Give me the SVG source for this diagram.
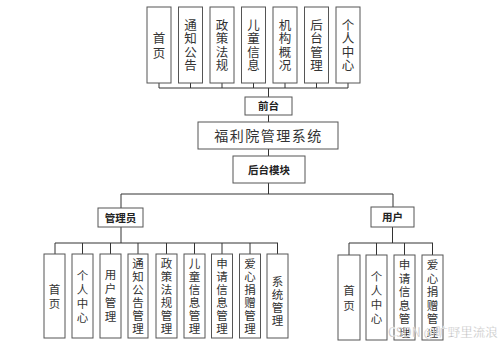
<svg xmlns="http://www.w3.org/2000/svg" width="500" height="346" viewBox="0 0 500 346">
<style>
.box{fill:#fff;stroke:#555;stroke-width:1}
.v{font-family:"Noto Sans CJK SC","Noto Sans CJK JP",sans-serif;font-size:11.5px;fill:#333;text-anchor:middle}
.vt{font-family:"Noto Sans CJK SC","Noto Sans CJK JP",sans-serif;font-size:12.5px;fill:#333;text-anchor:middle}
.b{font-family:"Noto Sans CJK SC",sans-serif;font-size:10.5px;font-weight:bold;fill:#222;text-anchor:middle}
.t{font-family:"Noto Sans CJK SC",sans-serif;font-size:14px;fill:#333;text-anchor:middle;letter-spacing:1.5px}
.ln{stroke:#333;stroke-width:1;fill:none}
</style>
<rect width="500" height="346" fill="#fff"/>
<g id="connectors">
<path class="ln" d="M159,83V88M190.5,83V88M222,83V88M253.5,83V88M285,83V88M316.5,83V88M348,83V88M159,88H348M268.5,88V97"/>
<path class="ln" d="M268.5,115V122M268.5,149V156M268.5,183V194M121,194H393M121,194V208M393,194V207"/>
<path class="ln" d="M121,227V243M55,243H278M55,243V254M82.5,243V254M110.5,243V254M138,243V254M166.5,243V254M194.5,243V254M222,243V254M250,243V254M277.5,243V254"/>
<path class="ln" d="M392.5,227V243M349,243H433M349,243V255M376.5,243V255M404.5,243V255M432.5,243V255"/>
</g>
<g id="top1"><rect class="box" x="147" y="7" width="24" height="76"/><text class="vt"><tspan x="159" y="43">首</tspan><tspan x="159" y="58">页</tspan></text></g>
<g id="top2"><rect class="box" x="178.5" y="7" width="24" height="76"/><text class="vt"><tspan x="190.5" y="29.5">通</tspan><tspan x="190.5" y="43">知</tspan><tspan x="190.5" y="56.5">公</tspan><tspan x="190.5" y="70">告</tspan></text></g>
<g id="top3"><rect class="box" x="210" y="7" width="24" height="76"/><text class="vt"><tspan x="222" y="29.5">政</tspan><tspan x="222" y="43">策</tspan><tspan x="222" y="56.5">法</tspan><tspan x="222" y="70">规</tspan></text></g>
<g id="top4"><rect class="box" x="241.5" y="7" width="24" height="76"/><text class="vt"><tspan x="253.5" y="29.5">儿</tspan><tspan x="253.5" y="43">童</tspan><tspan x="253.5" y="56.5">信</tspan><tspan x="253.5" y="70">息</tspan></text></g>
<g id="top5"><rect class="box" x="273" y="7" width="24" height="76"/><text class="vt"><tspan x="285" y="29.5">机</tspan><tspan x="285" y="43">构</tspan><tspan x="285" y="56.5">概</tspan><tspan x="285" y="70">况</tspan></text></g>
<g id="top6"><rect class="box" x="304.5" y="7" width="24" height="76"/><text class="vt"><tspan x="316.5" y="29.5">后</tspan><tspan x="316.5" y="43">台</tspan><tspan x="316.5" y="56.5">管</tspan><tspan x="316.5" y="70">理</tspan></text></g>
<g id="top7"><rect class="box" x="336" y="7" width="24" height="76"/><text class="vt"><tspan x="348" y="29.5">个</tspan><tspan x="348" y="43">人</tspan><tspan x="348" y="56.5">中</tspan><tspan x="348" y="70">心</tspan></text></g>
<g id="qiantai"><rect class="box" x="245" y="97" width="47" height="18"/><text class="b" x="268.5" y="110">前台</text></g>
<g id="system"><rect class="box" x="198" y="122" width="140" height="27"/><text class="t" x="268.5" y="140.5">福利院管理系统</text></g>
<g id="houtai"><rect class="box" x="233" y="156" width="72" height="27"/><text class="b" x="269" y="173.5">后台模块</text></g>
<g id="admin"><rect class="box" x="98" y="208" width="45" height="19"/><text class="b" x="120.5" y="221.5">管理员</text></g>
<g id="user"><rect class="box" x="371" y="207" width="43" height="20"/><text class="b" x="392.5" y="221">用户</text></g>
<g id="a1"><rect class="box" x="44" y="254" width="21" height="84"/><text class="v"><tspan x="54.5" y="294">首</tspan><tspan x="54.5" y="308">页</tspan></text></g>
<g id="a2"><rect class="box" x="72" y="254" width="21" height="84"/><text class="v"><tspan x="82.5" y="280">个</tspan><tspan x="82.5" y="294">人</tspan><tspan x="82.5" y="308">中</tspan><tspan x="82.5" y="322">心</tspan></text></g>
<g id="a3"><rect class="box" x="100" y="254" width="21" height="84"/><text class="v"><tspan x="110.5" y="279">用</tspan><tspan x="110.5" y="293">户</tspan><tspan x="110.5" y="307">管</tspan><tspan x="110.5" y="321">理</tspan></text></g>
<g id="a4"><rect class="box" x="128" y="254" width="20" height="84"/><text class="v"><tspan x="138" y="267.5">通</tspan><tspan x="138" y="280.5">知</tspan><tspan x="138" y="293.5">公</tspan><tspan x="138" y="306.5">告</tspan><tspan x="138" y="319.5">管</tspan><tspan x="138" y="332.5">理</tspan></text></g>
<g id="a5"><rect class="box" x="156" y="254" width="21" height="84"/><text class="v"><tspan x="166.5" y="267.5">政</tspan><tspan x="166.5" y="280.5">策</tspan><tspan x="166.5" y="293.5">法</tspan><tspan x="166.5" y="306.5">规</tspan><tspan x="166.5" y="319.5">管</tspan><tspan x="166.5" y="332.5">理</tspan></text></g>
<g id="a6"><rect class="box" x="184" y="254" width="21" height="84"/><text class="v"><tspan x="194.5" y="267.5">儿</tspan><tspan x="194.5" y="280.5">童</tspan><tspan x="194.5" y="293.5">信</tspan><tspan x="194.5" y="306.5">息</tspan><tspan x="194.5" y="319.5">管</tspan><tspan x="194.5" y="332.5">理</tspan></text></g>
<g id="a7"><rect class="box" x="211.5" y="254" width="21" height="84"/><text class="v"><tspan x="222" y="267.5">申</tspan><tspan x="222" y="280.5">请</tspan><tspan x="222" y="293.5">信</tspan><tspan x="222" y="306.5">息</tspan><tspan x="222" y="319.5">管</tspan><tspan x="222" y="332.5">理</tspan></text></g>
<g id="a8"><rect class="box" x="239.5" y="254" width="21" height="84"/><text class="v"><tspan x="250" y="267.5">爱</tspan><tspan x="250" y="280.5">心</tspan><tspan x="250" y="293.5">捐</tspan><tspan x="250" y="306.5">赠</tspan><tspan x="250" y="319.5">管</tspan><tspan x="250" y="332.5">理</tspan></text></g>
<g id="a9"><rect class="box" x="267" y="254" width="21" height="84"/><text class="v"><tspan x="277.5" y="286">系</tspan><tspan x="277.5" y="299">统</tspan><tspan x="277.5" y="312">管</tspan><tspan x="277.5" y="325">理</tspan></text></g>
<g id="u1"><rect class="box" x="338" y="255" width="22" height="85"/><text class="v"><tspan x="349" y="295">首</tspan><tspan x="349" y="310">页</tspan></text></g>
<g id="u2"><rect class="box" x="366" y="255" width="21" height="85"/><text class="v"><tspan x="376.5" y="281">个</tspan><tspan x="376.5" y="295">人</tspan><tspan x="376.5" y="309">中</tspan><tspan x="376.5" y="323">心</tspan></text></g>
<g id="u3"><rect class="box" x="394" y="255" width="21" height="85"/><text class="v"><tspan x="404.5" y="269">申</tspan><tspan x="404.5" y="282.5">请</tspan><tspan x="404.5" y="296">信</tspan><tspan x="404.5" y="309.5">息</tspan><tspan x="404.5" y="323">管</tspan><tspan x="404.5" y="336.5">理</tspan></text></g>
<g id="u4"><rect class="box" x="422" y="255" width="21" height="85"/><text class="v"><tspan x="432.5" y="269">爱</tspan><tspan x="432.5" y="282.5">心</tspan><tspan x="432.5" y="296">捐</tspan><tspan x="432.5" y="309.5">赠</tspan><tspan x="432.5" y="323">管</tspan><tspan x="432.5" y="336.5">理</tspan></text></g>
<text x="388" y="337" font-family="'Noto Sans CJK SC',sans-serif" font-size="12.5" fill="#aaa" fill-opacity="0.85" stroke="#fff" stroke-width="0.3">CSDN @旷野里流浪</text>
</svg>
